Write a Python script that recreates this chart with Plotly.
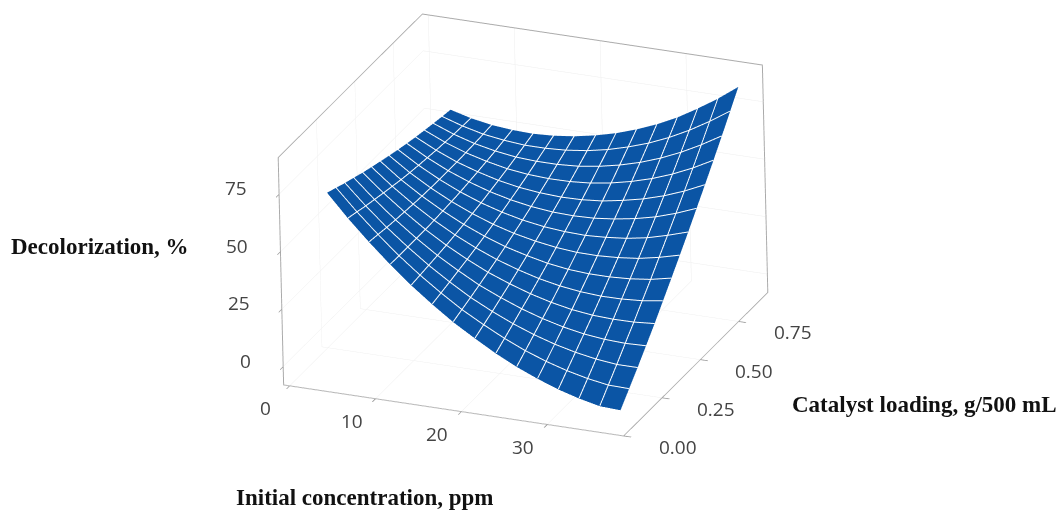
import plotly.graph_objects as go

concentration = [4.9, 7.3, 9.7, 12.1, 14.5, 16.9, 19.3, 21.8, 24.2, 26.6, 29.0, 31.4, 33.8, 36.2, 38.6]
catalyst = [0.0, 0.057, 0.114, 0.171, 0.229, 0.286, 0.343, 0.4, 0.457, 0.514, 0.571, 0.629, 0.686, 0.743, 0.8]
decolorization = [
    [78.8, 68.9, 59.9, 51.5, 43.8, 36.9, 30.5, 24.8, 19.6, 15.1, 11.3, 8.0, 5.4, 3.4, 3.0],
    [77.1, 67.8, 59.3, 51.4, 44.3, 37.9, 32.0, 26.8, 22.2, 18.2, 14.9, 12.2, 10.1, 8.6, 8.4],
    [75.4, 66.6, 58.6, 51.4, 44.8, 38.9, 33.5, 28.8, 24.8, 21.4, 18.6, 16.4, 14.8, 13.8, 13.8],
    [73.9, 65.6, 58.1, 51.4, 45.3, 40.0, 35.1, 31.0, 27.5, 24.6, 22.3, 20.6, 19.6, 19.2, 19.5],
    [72.3, 64.6, 57.7, 51.4, 45.9, 41.1, 36.8, 33.2, 30.2, 27.8, 26.0, 24.9, 24.5, 24.6, 25.3],
    [70.9, 63.7, 57.3, 51.6, 46.6, 42.3, 38.6, 35.5, 33.0, 31.2, 30.0, 29.4, 29.5, 30.1, 31.4],
    [69.6, 62.8, 57.0, 51.9, 47.4, 43.6, 40.4, 37.9, 35.9, 34.6, 34.0, 34.0, 34.5, 35.6, 37.5],
    [68.3, 62.1, 56.8, 52.2, 48.3, 45.0, 42.4, 40.4, 39.0, 38.2, 38.1, 38.6, 39.6, 41.4, 43.7],
    [67.1, 61.5, 56.7, 52.6, 49.2, 46.5, 44.4, 42.9, 42.1, 41.8, 42.3, 43.2, 44.8, 47.2, 50.0],
    [66.0, 61.0, 56.7, 53.2, 50.3, 48.1, 46.5, 45.5, 45.2, 45.5, 46.5, 48.0, 50.1, 53.0, 56.5],
    [65.0, 60.5, 56.7, 53.8, 51.4, 49.7, 48.7, 48.2, 48.4, 49.2, 50.8, 52.8, 55.5, 58.9, 63.0],
    [64.1, 60.1, 56.9, 54.5, 52.6, 51.5, 51.0, 51.1, 51.8, 53.2, 55.2, 57.8, 61.1, 65.1, 69.8],
    [63.3, 59.8, 57.1, 55.2, 53.9, 53.4, 53.4, 54.0, 55.3, 57.2, 59.7, 62.9, 66.8, 71.4, 76.6],
    [62.5, 59.6, 57.4, 56.1, 55.3, 55.3, 55.8, 57.0, 58.8, 61.3, 64.3, 68.1, 72.6, 77.8, 83.6],
    [61.8, 59.4, 57.8, 57.0, 56.7, 57.2, 58.3, 60.1, 62.4, 65.4, 69.0, 73.3, 78.5, 84.2, 90.6],
]
x_ticks = [0, 10, 20, 30]
y_ticks = [0, 0.25, 0.5, 0.75]
z_ticks = [0, 25, 50, 75]
x_title = "Initial concentration, ppm"
y_title = "Catalyst loading, g/500 mL"
z_title = "Decolorization, %"

W, H = 1059, 511
BLUE = "#0b55a5"
XR, YR, ZR = [-0.7, 38.9], [0, 0.94], [-8, 91]
TICKFONT = dict(family="Open Sans", size=19, color="#444")
LIFT = 0.25

fig = go.Figure(go.Surface(
    x=concentration, y=catalyst, z=decolorization,
    colorscale=[[0, BLUE], [1, BLUE]], showscale=False,
    lighting=dict(ambient=1, diffuse=0, specular=0, fresnel=0, roughness=1),
    contours=dict(x=dict(highlight=False), y=dict(highlight=False), z=dict(highlight=False)),
    hoverinfo="skip",
))

grid_line = dict(color="white", width=2)
for j in range(1, len(catalyst) - 1):
    fig.add_trace(go.Scatter3d(
        x=concentration, y=[catalyst[j]] * len(concentration),
        z=[v + LIFT for v in decolorization[j]],
        mode="lines", line=grid_line, hoverinfo="skip"))
for k in range(1, len(concentration) - 1):
    fig.add_trace(go.Scatter3d(
        x=[concentration[k]] * len(catalyst), y=catalyst,
        z=[row[k] + LIFT for row in decolorization],
        mode="lines", line=grid_line, hoverinfo="skip"))

def axis(rng, ticks):
    return dict(
        title=dict(text=""), range=rng, tickmode="array", tickvals=ticks,
        showticklabels=False, ticks="outside", ticklen=8, tickcolor="#999", tickwidth=2,
        showline=True, linecolor="#aaa", linewidth=2, mirror=True,
        showgrid=True, gridcolor="#eeeeee", gridwidth=1,
        showbackground=False, zeroline=False, showspikes=False,
    )

tick_labels = (
    [dict(x=t, y=YR[0], z=ZR[0], text=str(t), xshift=-24, yshift=-22, xanchor="center") for t in x_ticks]
    + [dict(x=XR[1], y=t, z=ZR[0], text=f"{t:.2f}", xshift=54, yshift=-11, xanchor="center") for t in y_ticks]
    + [dict(x=XR[0], y=YR[0], z=t, text=str(t), xshift=-30, yshift=6, xanchor="right") for t in z_ticks]
)
for a in tick_labels:
    a.update(showarrow=False, yanchor="middle", font=TICKFONT)

fig.update_layout(
    width=W, height=H, margin=dict(l=0, r=0, t=0, b=0),
    paper_bgcolor="white", showlegend=False,
    scene=dict(
        domain=dict(x=[0, 1046 / W], y=[61 / H, 1]),
        dragmode="orbit",
        xaxis=axis(XR, x_ticks),
        yaxis=axis(YR, y_ticks),
        zaxis=axis(ZR, z_ticks),
        aspectmode="manual", aspectratio=dict(x=1.638, y=1.664, z=1.107),
        camera=dict(
            projection=dict(type="orthographic"),
            eye=dict(x=0.72, y=-1.68, z=0.814),
            up=dict(x=0.02, y=0.0086, z=1),
            center=dict(x=0, y=0, z=0),
        ),
        annotations=tick_labels,
    ),
    annotations=[
        dict(text=f"<b>{t}</b>", x=px / W, y=1 - py / H, xref="paper", yref="paper",
             xanchor="left", yanchor="middle", showarrow=False,
             font=dict(family="Liberation Serif", size=23, color="#111"))
        for t, px, py in [(z_title, 9, 246), (y_title, 790, 404), (x_title, 234, 497)]
    ],
)
fig.write_html("out.html", config=dict(displayModeBar=False),
               post_script="document.body.style.margin='0';document.body.style.overflow='hidden';")
